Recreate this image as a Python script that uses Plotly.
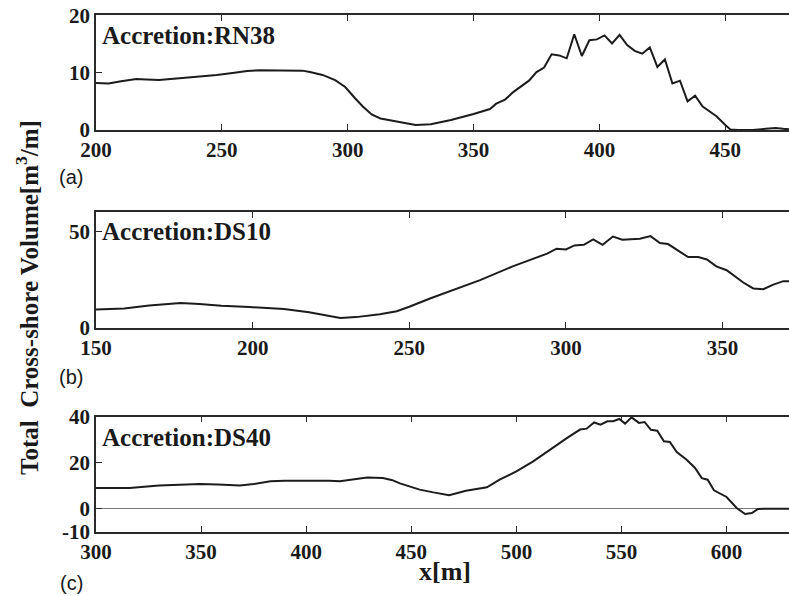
import plotly.graph_objects as go

# ---------------- data ----------------
# Panel (a) Accretion:RN38
xa = [200, 205, 210, 216, 220, 225, 232, 240, 248, 255, 260, 265, 270, 278, 282, 285, 290, 295, 299,
      303, 306, 309.5, 313, 320, 327, 333, 341, 350, 356.5, 359, 362.5, 366, 372, 375,
      378, 381, 384, 387, 390, 393, 396, 399, 402, 405, 408, 411, 414, 417, 420, 423,
      426, 429, 432, 435, 438, 441, 446.5, 450, 452, 455, 461, 466, 470, 473, 476]
va = [8.2, 8.1, 8.5, 8.9, 8.8, 8.7, 9.0, 9.3, 9.6, 10.0, 10.3, 10.4, 10.4, 10.45, 10.35, 10.1, 9.6, 8.7, 7.5,
      5.5, 4.1, 2.7, 2.0, 1.45, 0.87, 1.0, 1.74, 2.8, 3.65, 4.6, 5.3, 6.7, 8.6, 10.1,
      10.9, 13.2, 13.0, 12.5, 16.7, 12.9, 15.65, 15.8, 16.5, 15.1, 16.6, 14.8, 13.8, 13.3, 14.4, 11.0,
      12.3, 8.1, 8.6, 5.0, 6.0, 4.1, 2.4, 0.87, 0.1, 0.0, 0.0, 0.2, 0.35, 0.2, 0.1]

# Panel (b) Accretion:DS10
xb = [150, 159, 167, 174, 177, 183, 190, 199, 210, 218, 225, 228, 233, 240.6, 246, 250,
      256.6, 272.6, 283, 294, 297, 300, 302.7, 305.7, 308.7, 311.7, 315, 318, 323.6, 327,
      330, 332.6, 339, 342.2, 345, 348, 351.3, 356.6, 359.8, 363, 366.2, 369.4, 372]
vb = [9.5, 10.0, 11.5, 12.6, 12.8, 12.3, 11.4, 10.7, 9.7, 8.0, 5.7, 5.0, 5.5, 7.0, 8.6, 10.9,
      15.2, 24.7, 31.9, 38.5, 41.1, 40.7, 42.8, 43.1, 45.9, 43.1, 47.4, 45.7, 46.2, 47.6,
      44.0, 43.5, 36.7, 36.7, 35.5, 31.9, 29.9, 23.5, 20.4, 20.0, 22.4, 24.2, 24.2]

# Panel (c) Accretion:DS40
xc = [300, 316, 330, 340, 349.5, 358, 368.5, 375, 383, 390, 397, 404, 411, 416, 422, 429, 436.5,
      441, 444.6, 450, 454, 460.5, 468,
      476, 486, 492, 500, 508, 516, 524, 530.3, 533.4, 537, 540, 543.3, 546, 549, 551.7,
      554.8, 558.3, 561, 564, 567, 570.2, 573, 576.3, 581, 585, 588.2, 591, 594, 600,
      604.8, 608.8, 612, 615, 619, 630]
vc = [9.0, 9.0, 10.1, 10.4, 10.7, 10.5, 10.1, 10.7, 11.9, 12.2, 12.3, 12.3, 12.2, 11.9, 12.6, 13.6, 13.3,
      12.4, 11.0, 9.5, 8.3, 7.1, 5.9,
      7.8, 9.3, 12.6, 16.2, 20.6, 25.7, 30.7, 34.4, 34.8, 37.5, 36.5, 38.0, 38.0, 39.0, 37.0,
      39.7, 37.3, 37.7, 34.3, 33.9, 29.3, 29.0, 24.6, 21.3, 17.7, 13.3, 12.6, 8.0, 5.1,
      0.3, -2.3, -1.9, -0.1, 0.0, 0.0]

panel_titles = ["Accretion:RN38", "Accretion:DS10", "Accretion:DS40"]
panel_letters = ["(a)", "(b)", "(c)"]
xticks_a = [200, 250, 300, 350, 400, 450]
xticks_b = [150, 200, 250, 300, 350]
xticks_c = [300, 350, 400, 450, 500, 550, 600]
yticks_a = [0, 10, 20]
yticks_b = [0, 50]
yticks_c = [-10, 0, 20, 40]
ytext_c = ["-10", "0", "20", "40"]

# ---------------- figure ----------------
W, H = 789, 596
LINE = "#1c1c1c"
FRAME = "#2a2a2a"
SERIF = "Liberation Serif, Times New Roman, serif"

def px(v):
    return v / W

def py(v):
    return 1 - v / H

fig = go.Figure()
fig.add_trace(go.Scatter(x=xa, y=va, mode="lines", line=dict(color=LINE, width=2),
                         xaxis="x", yaxis="y", showlegend=False))
fig.add_trace(go.Scatter(x=xb, y=vb, mode="lines", line=dict(color=LINE, width=2),
                         xaxis="x2", yaxis="y2", showlegend=False))
fig.add_trace(go.Scatter(x=xc, y=vc, mode="lines", line=dict(color=LINE, width=2),
                         xaxis="x3", yaxis="y3", showlegend=False))

tickfont = dict(family=SERIF, size=21, color="#1a1a1a", weight="bold")
xdom = [px(96), 1.0]

def xax(rng, ticks, anchor):
    return dict(domain=xdom, range=rng, tickvals=ticks, ticktext=[str(t) for t in ticks],
                showline=True, linecolor=FRAME, linewidth=1.5, mirror="ticks",
                ticks="inside", ticklen=6, tickcolor=FRAME, tickwidth=1.2,
                showgrid=False, zeroline=False, tickfont=tickfont, anchor=anchor,
                automargin=False, fixedrange=True)

def yax(rng, dom, ticks, text, anchor, zl=False):
    return dict(domain=dom, range=rng, tickvals=ticks, ticktext=text,
                showline=True, linecolor=FRAME, linewidth=1.5, mirror=False,
                ticks="inside", ticklen=6, tickcolor=FRAME, tickwidth=1.2,
                showgrid=False, zeroline=zl, zerolinecolor="#7a7a7a", zerolinewidth=1.2,
                tickfont=tickfont, anchor=anchor, automargin=False, fixedrange=True)

fig.update_layout(
    width=W, height=H,
    margin=dict(l=0, r=0, t=0, b=0),
    paper_bgcolor="white", plot_bgcolor="white",
    xaxis=xax([200, 475.3], xticks_a, "y"),
    yaxis=yax([0, 20], [py(130), py(15.3)], yticks_a, [str(t) for t in yticks_a], "x"),
    xaxis2=xax([150, 371.2], xticks_b, "y2"),
    yaxis2=yax([0, 60], [py(327.7), py(212.3)], yticks_b, [str(t) for t in yticks_b], "x2"),
    xaxis3=xax([300, 629.7], xticks_c, "y3"),
    yaxis3=yax([-10, 40], [py(531.7), py(416.7)], yticks_c, ytext_c, "x3", zl=True),
)

anns = []
title_y = [35.5, 231.7, 437.8]
letter_y = [177, 376.7, 583.3]
for t, yy in zip(panel_titles, title_y):
    anns.append(dict(text=t, x=px(100), y=py(yy), xref="paper", yref="paper",
                     xanchor="left", yanchor="middle", showarrow=False,
                     font=dict(family=SERIF, size=25, color="#1a1a1a", weight="bold")))
for t, yy in zip(panel_letters, letter_y):
    anns.append(dict(text=t, x=px(71), y=py(yy), xref="paper", yref="paper",
                     xanchor="center", yanchor="middle", showarrow=False,
                     font=dict(family="Liberation Sans, Arial, sans-serif", size=20, color="#1a1a1a")))
anns.append(dict(text="x[m]", x=px(445), y=py(571.7), xref="paper", yref="paper",
                 xanchor="center", yanchor="middle", showarrow=False,
                 font=dict(family=SERIF, size=26, color="#1a1a1a", weight="bold")))
anns.append(dict(text="Total  Cross-shore Volume[m<sup>3</sup>/m]", x=px(27), y=py(298),
                 xref="paper", yref="paper", textangle=-90,
                 xanchor="center", yanchor="middle", showarrow=False,
                 font=dict(family=SERIF, size=25, color="#1a1a1a", weight="bold")))
fig.update_layout(annotations=anns)

fig.write_html("out.html")
